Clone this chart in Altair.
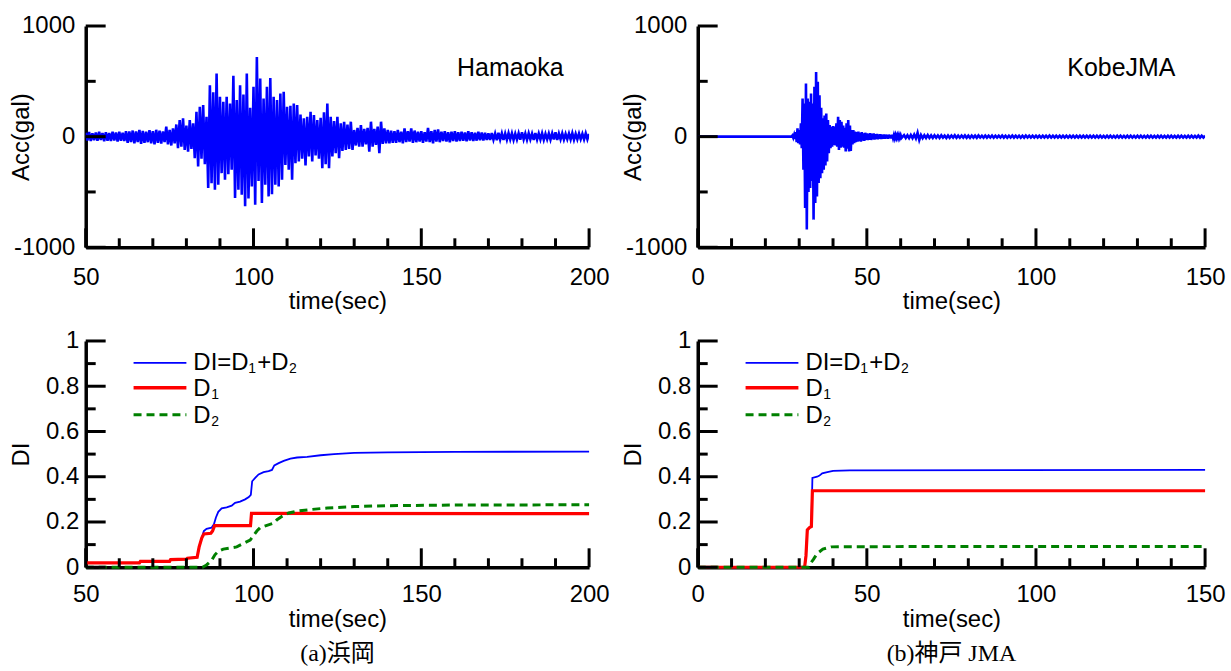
import altair as alt
import pandas as pd

SANS = "Liberation Sans, Arial, Helvetica, sans-serif"
SERIF = "Liberation Serif, Times New Roman, Noto Sans CJK JP, serif"

# ---------------- data ----------------
# Hamaoka acceleration: positive peaks at t = 50, 51, ... 200 ; negative peaks at t = 50.5 ... 199.5
HAMA_UP = [35, 42, 30, 38, 45, 33, 40, 32, 44, 38,
           45, 36, 50, 46, 55, 48, 60, 52, 45, 58,
           50, 62, 55, 48, 90, 60, 75, 110, 150, 165,
           100, 150, 120, 225, 270, 285, 180, 465, 400, 570,
           360, 315, 360, 300, 550, 330, 465, 380, 570, 260,
           450, 720, 525, 345, 450, 530, 360, 330, 390, 405,
           270, 280, 300, 285, 200, 165, 180, 225, 195, 150,
           170, 220, 300, 180, 140, 180, 120, 135, 110, 135,
           60, 80, 105, 70, 80, 135, 70, 90, 135, 75,
           60, 55, 50, 60, 45, 75, 50, 75, 55, 45,
           50, 40, 80, 50, 60, 65, 45, 50, 40, 45,
           50, 40, 45, 38, 50, 40, 35, 45, 38, 35,
           30, 32, 28, 35, 30, 28, 32, 30, 26, 30,
           40, 28, 30, 26, 32, 28, 30, 25, 28, 30,
           40, 27, 30, 25, 28, 32, 26, 28, 25, 30,
           25]
HAMA_LO = [-35, -40, -32, -38, -30, -42, -36, -40, -35, -45,
           -38, -40, -55, -50, -60, -48, -65, -55, -50, -60,
           -70, -55, -62, -50, -70, -80, -60, -105, -90, -120,
           -135, -110, -195, -270, -200, -250, -465, -420, -480, -435,
           -330, -390, -340, -300, -555, -480, -525, -630, -560, -450,
           -615, -400, -600, -435, -540, -520, -435, -450, -390, -255,
           -300, -390, -240, -225, -200, -260, -180, -225, -170, -200,
           -285, -250, -285, -180, -150, -195, -130, -120, -110, -120,
           -80, -90, -90, -70, -135, -90, -75, -150, -65, -60,
           -60, -55, -55, -50, -60, -50, -45, -55, -50, -45,
           -55, -45, -50, -60, -45, -50, -40, -45, -50, -40,
           -45, -40, -38, -42, -35, -40, -36, -32, -35, -30,
           -30, -28, -32, -26, -30, -28, -25, -30, -26, -28,
           -25, -28, -24, -30, -26, -25, -28, -24, -26, -25,
           -30, -24, -26, -22, -25, -28, -24, -22, -25, -24]

# Kobe JMA acceleration: quiet until 28 s, burst peaks every 0.5 s (28.0 .. 60.0), tail every 1 s (61 .. 150)
KOBE_BURST_UP = [10, 15, 40, 75, 60, 120, 345, 300, 480, 345,
                 315, 390, 300, 450, 585, 495, 375, 260, 165, 190,
                 210, 150, 105, 90, 95, 90, 120, 180, 150, 135,
                 100, 80, 120, 150, 100, 60, 60, 45, 40, 45,
                 35, 40, 30, 35, 30, 28, 32, 25, 28, 22,
                 25, 20, 22, 18, 20, 18, 16, 18, 15, 16,
                 14, 15, 13, 14, 12]
KOBE_BURST_LO = [-10, -20, -50, -60, -70, -105, -300, -645, -840, -500,
                 -465, -400, -750, -600, -540, -420, -375, -330, -300, -260,
                 -225, -150, -105, -90, -75, -80, -90, -120, -100, -90,
                 -100, -135, -110, -135, -130, -70, -60, -50, -45, -40,
                 -45, -35, -38, -30, -32, -28, -30, -25, -26, -22,
                 -24, -20, -22, -18, -20, -16, -18, -15, -16, -14,
                 -15, -13, -14, -12, -12]
KOBE_TAIL_UP = [14, 12, 15, 18, 35, 15, 12, 14, 11, 12,
                10, 12, 9, 11, 10, 12, 9, 10, 11, 9,
                10, 9, 11, 8, 10, 9, 10, 8, 9, 10,
                8, 9, 10, 8, 9, 8, 10, 9, 8, 9,
                8, 9, 8, 10, 8, 9, 8, 8, 9, 8,
                9, 8, 8, 9, 8, 8, 9, 8, 9, 8,
                8, 9, 8, 8, 9, 8, 8, 9, 8, 8,
                9, 8, 8, 9, 8, 8, 9, 8, 8, 9,
                8, 8, 9, 8, 8, 9, 8, 10, 9, 8]
KOBE_TAIL_LO = [-12, -14, -13, -16, -30, -14, -12, -11, -12, -10,
                -11, -9, -12, -10, -9, -11, -10, -9, -10, -11,
                -9, -10, -8, -10, -9, -8, -10, -9, -8, -9,
                -10, -8, -9, -8, -10, -9, -8, -9, -8, -9,
                -8, -9, -8, -8, -9, -8, -9, -8, -8, -9,
                -8, -9, -8, -8, -9, -8, -8, -9, -8, -8,
                -9, -8, -8, -9, -8, -8, -9, -8, -8, -9,
                -8, -8, -9, -8, -8, -9, -8, -8, -9, -8,
                -8, -9, -8, -8, -9, -8, -8, -9, -8]

# Damage index curves (time, value)
HAMA_DI_T = [50, 66, 66.3, 75, 75.3, 80, 80.3, 83.2, 83.8, 84.6, 85.2, 86, 87.5, 88.2, 88.8, 89.5,
             90.5, 92, 93.5, 94.5, 96, 97.5, 98.6, 99.2, 99.6, 100.5, 101.5, 103, 104.5, 105.5,
             106.2, 107.5, 109, 111, 113, 116, 120, 124, 130, 140, 160, 200]
HAMA_DI_V = [0.019, 0.019, 0.026, 0.026, 0.034, 0.036, 0.04, 0.044, 0.09, 0.13, 0.16, 0.17, 0.175,
             0.19, 0.22, 0.245, 0.26, 0.265, 0.272, 0.285, 0.29, 0.3, 0.31, 0.32, 0.38, 0.395, 0.41,
             0.42, 0.425, 0.43, 0.45, 0.46, 0.47, 0.48, 0.485, 0.488, 0.495, 0.5, 0.505, 0.508,
             0.51, 0.511]
HAMA_D1_T = [50, 66, 66.3, 75, 75.3, 80, 80.3, 83.2, 83.8, 84.6, 85.2, 87.3, 87.8, 88.4, 99.1, 99.4, 200]
HAMA_D1_V = [0.019, 0.019, 0.026, 0.026, 0.034, 0.036, 0.04, 0.044, 0.09, 0.13, 0.147, 0.15, 0.16,
             0.184, 0.184, 0.238, 0.237]
HAMA_D2_T = [50, 84.8, 86, 87.5, 88.5, 89.5, 91, 93, 95, 97, 99, 100, 101, 102, 104, 106, 107, 108.5,
             110.5, 113, 117, 122, 130, 140, 160, 200]
HAMA_D2_V = [0, 0, 0.01, 0.03, 0.055, 0.07, 0.08, 0.085, 0.09, 0.105, 0.12, 0.14, 0.16, 0.175, 0.185,
             0.195, 0.21, 0.225, 0.24, 0.248, 0.255, 0.262, 0.268, 0.272, 0.275, 0.276]

KOBE_DI_T = [0, 31.6, 32.0, 32.4, 33.0, 33.6, 33.9, 35.3, 36, 36.8, 38.3, 40, 45, 150]
KOBE_DI_V = [0, 0, 0.05, 0.165, 0.175, 0.18, 0.395, 0.4, 0.405, 0.415, 0.42, 0.426, 0.428, 0.43]
KOBE_D1_T = [0, 31.6, 32.0, 32.4, 33.0, 33.6, 33.9, 150]
KOBE_D1_V = [0, 0, 0.05, 0.165, 0.175, 0.18, 0.338, 0.338]
KOBE_D2_T = [0, 32.8, 33.5, 34.2, 35.3, 37, 39.5, 45, 150]
KOBE_D2_V = [0, 0, 0.02, 0.035, 0.06, 0.08, 0.09, 0.091, 0.092]

# axis tick values
HAMA_X_MAJOR = [50, 100, 150, 200]
HAMA_X_MINOR = [60, 70, 80, 90, 110, 120, 130, 140, 160, 170, 180, 190]
KOBE_X_MAJOR = [0, 50, 100, 150]
KOBE_X_MINOR = [10, 20, 30, 40, 60, 70, 80, 90, 110, 120, 130, 140]
ACC_Y_MAJOR = [-1000, 0, 1000]
ACC_Y_MINOR = [-500, 500]
DI_Y_MAJOR = [0, 0.2, 0.4, 0.6, 0.8, 1]
DI_Y_MINOR = [0.1, 0.3, 0.5, 0.7, 0.9]

BLUE, RED, GREEN = "#0000FF", "#FF0000", "#008000"

# ---------------- build tables ----------------
def acc_frame(segments):
    rows = []
    for ts, vs in segments:
        rows += [{"t": t, "v": v} for t, v in zip(ts, vs)]
    return pd.DataFrame(rows).sort_values("t").reset_index(drop=True)

hama_acc = acc_frame([
    ([50 + i for i in range(len(HAMA_UP))], HAMA_UP),
    ([50.5 + i for i in range(len(HAMA_LO))], HAMA_LO),
])
kobe_acc = acc_frame([
    ([0, 27.75], [0, 0]),
    ([28 + 0.5 * i for i in range(len(KOBE_BURST_UP))], KOBE_BURST_UP),
    ([28.25 + 0.5 * i for i in range(len(KOBE_BURST_LO))], KOBE_BURST_LO),
    ([61 + i for i in range(len(KOBE_TAIL_UP))], KOBE_TAIL_UP),
    ([61.5 + i for i in range(len(KOBE_TAIL_LO))], KOBE_TAIL_LO),
])


def xy(ts, vs):
    return pd.DataFrame({"t": ts, "v": vs})


# ---------------- panel builders ----------------
def x_axis(vals, lp, tp):
    return alt.Axis(values=vals, title="time(sec)", labelExpr="'' + datum.value",
                    labelPadding=lp, titlePadding=tp, labelFlush=False, labelOverlap=False)


def y_axis(vals, title, h, pad):
    return alt.Axis(values=vals, title=title, labelExpr="'' + datum.value", labelPadding=pad,
                    titleX=-64, titleY=h / 2, titleBaseline="middle", titleAlign="center",
                    labelOverlap=False, labelFlush=False)


def tick_layers(xscale, yscale, xmaj, xmin, ymaj, ymin, h):
    """Inward-pointing axis ticks drawn as short rules at the tick values."""
    out = []
    for vals, L in ((xmaj, 19), (xmin, 9)):
        out.append(alt.Chart(pd.DataFrame({"t": vals})).mark_rule(color="black", strokeWidth=3).encode(
            x=alt.X("t:Q", scale=xscale), y=alt.value(h), y2=alt.value(h - L)))
    for vals, L in ((ymaj, 20), (ymin, 10)):
        out.append(alt.Chart(pd.DataFrame({"v": vals})).mark_rule(color="black", strokeWidth=3).encode(
            y=alt.Y("v:Q", scale=yscale), x=alt.value(0), x2=alt.value(L)))
    return out


def acc_panel(df, xdom, xmaj, xmin, name, w, h, name_x):
    xs = alt.Scale(domain=xdom, nice=False, zero=False)
    ys = alt.Scale(domain=[-1000, 1000], nice=False, zero=False)
    line = alt.Chart(df).mark_line(color=BLUE, strokeWidth=2.6, clip=True).encode(
        x=alt.X("t:Q", scale=xs, axis=x_axis(xmaj, 18, 0)),
        y=alt.Y("v:Q", scale=ys, axis=y_axis(ACC_Y_MAJOR, "Acc(gal)", h, 11)))
    label = alt.Chart(pd.DataFrame({"s": [name]})).mark_text(
        font=SANS, fontSize=25, align="center", baseline="middle", color="black").encode(
        text="s:N", x=alt.value(name_x), y=alt.value(42))
    return alt.layer(line, *tick_layers(xs, ys, xmaj, xmin, ACC_Y_MAJOR, ACC_Y_MINOR, h),
                     label).properties(width=w, height=h)


def legend_layers():
    one = pd.DataFrame({"k": [0]})
    out = []
    rows = [(22, BLUE, 1.8, [1, 0]), (47, RED, 3.5, [1, 0]), (74, GREEN, 3, [8, 5])]
    for y, c, sw, dash in rows:
        out.append(alt.Chart(one).mark_rule(color=c, strokeWidth=sw, strokeDash=dash).encode(
            x=alt.value(48), x2=alt.value(101), y=alt.value(y)))
    pieces = [
        ("DI=D", 108, 22, 24), ("1", 163, 28, 14), ("+D", 172, 22, 24), ("2", 204, 28, 14),
        ("D", 108, 48, 24), ("1", 126, 54, 14),
        ("D", 108, 75, 24), ("2", 126, 81, 14),
    ]
    for s, x, y, fs in pieces:
        out.append(alt.Chart(pd.DataFrame({"s": [s]})).mark_text(
            font=SANS, fontSize=fs, align="left", baseline="middle", color="black").encode(
            text="s:N", x=alt.value(x), y=alt.value(y)))
    return out


def di_panel(di, d1, d2, xdom, xmaj, xmin, caption, w, h):
    xs = alt.Scale(domain=xdom, nice=False, zero=False)
    ys = alt.Scale(domain=[0, 1], nice=False, zero=False)
    X = alt.X("t:Q", scale=xs, axis=x_axis(xmaj, 15, 1))
    Y = alt.Y("v:Q", scale=ys, axis=y_axis(DI_Y_MAJOR, "DI", h, 7))
    l_di = alt.Chart(di).mark_line(color=BLUE, strokeWidth=1.8).encode(x=X, y=Y)
    l_d1 = alt.Chart(d1).mark_line(color=RED, strokeWidth=3.2).encode(x=X, y=Y)
    l_d2 = alt.Chart(d2).mark_line(color=GREEN, strokeWidth=3, strokeDash=[8, 5]).encode(x=X, y=Y)
    return alt.layer(l_di, l_d1, l_d2,
                     *tick_layers(xs, ys, xmaj, xmin, DI_Y_MAJOR, DI_Y_MINOR, h),
                     *legend_layers()).properties(
        width=w, height=h,
        title=alt.TitleParams(caption, orient="bottom", anchor="middle", font=SERIF, fontSize=24,
                              fontWeight="normal", color="black", offset=11))


TOP_H, BOT_H = 222, 227
LW, RW = 505, 509

tl = acc_panel(hama_acc, [50, 200], HAMA_X_MAJOR, HAMA_X_MINOR, "Hamaoka", LW, TOP_H, 426)
tr = acc_panel(kobe_acc, [0, 150], KOBE_X_MAJOR, KOBE_X_MINOR, "KobeJMA", RW, TOP_H, 425)
bl = di_panel(xy(HAMA_DI_T, HAMA_DI_V), xy(HAMA_D1_T, HAMA_D1_V), xy(HAMA_D2_T, HAMA_D2_V),
              [50, 200], HAMA_X_MAJOR, HAMA_X_MINOR, "(a)浜岡", LW, BOT_H)
br = di_panel(xy(KOBE_DI_T, KOBE_DI_V), xy(KOBE_D1_T, KOBE_D1_V), xy(KOBE_D2_T, KOBE_D2_V),
              [0, 150], KOBE_X_MAJOR, KOBE_X_MINOR, "(b)神戸 JMA", RW, BOT_H)

chart = alt.hconcat(
    alt.vconcat(tl, bl, spacing=16),
    alt.vconcat(tr, br, spacing=16),
    spacing=12,
).properties(
    padding={"left": 10, "top": 13, "right": 5, "bottom": 0},
).configure_view(stroke=None).configure_axis(
    labelFont=SANS, labelFontSize=24, labelColor="black",
    titleFont=SANS, titleFontSize=24, titleFontWeight="normal", titleColor="black",
    domainColor="black", domainWidth=3.5, ticks=False, grid=False,
)

chart.save("out.html", embed_options={"renderer": "svg", "actions": False})
